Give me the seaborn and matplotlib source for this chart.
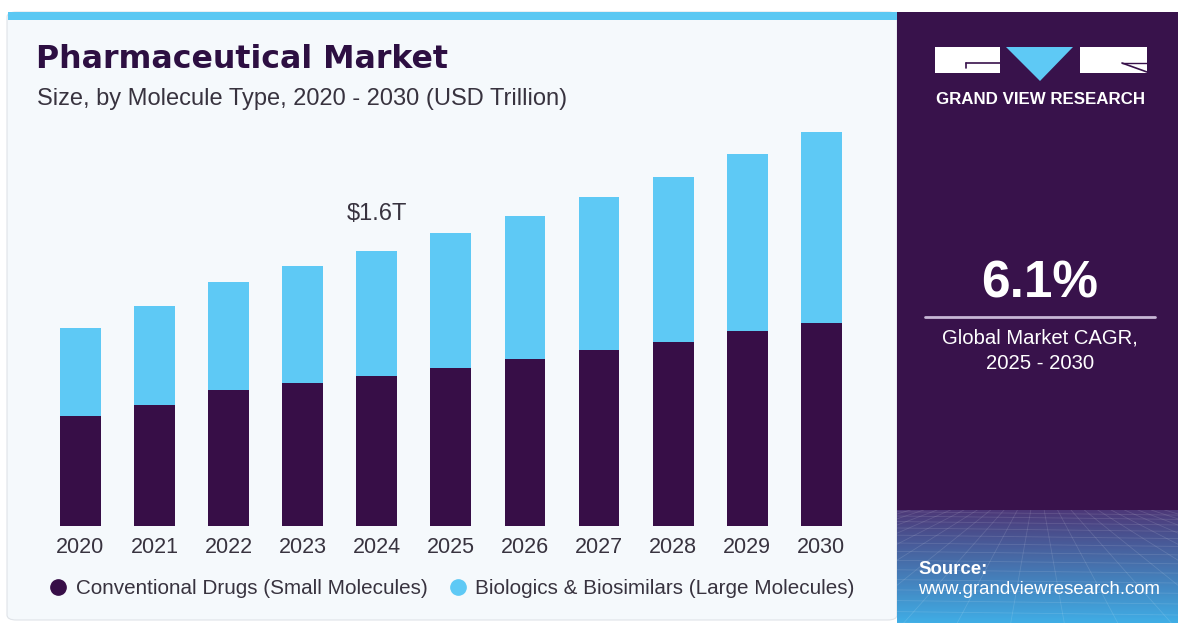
import matplotlib.pyplot as plt
import matplotlib.patches as mpatches
from matplotlib.lines import Line2D
import seaborn as sns
import numpy as np
import pandas as pd

years = ["2020", "2021", "2022", "2023", "2024", "2025", "2026", "2027", "2028", "2029", "2030"]
conventional = [0.64, 0.70, 0.79, 0.83, 0.87, 0.92, 0.97, 1.02, 1.07, 1.13, 1.18]
biologics = [0.51, 0.58, 0.63, 0.68, 0.73, 0.78, 0.83, 0.89, 0.96, 1.03, 1.11]
series_names = ["Conventional Drugs (Small Molecules)", "Biologics & Biosimilars (Large Molecules)"]
highlight_year = "2024"
highlight_label = "$1.6T"
cagr_value = "6.1%"
cagr_text = "Global Market CAGR,\n2025 - 2030"

DARK = "#370e47"
LIGHT = "#5ec9f5"
PANEL = "#f5f9fc"
SIDE = "#38124b"
TEXT = "#38333f"

W, H = 1178, 623

sns.set_style("white")
plt.rcParams["font.family"] = ["Liberation Sans", "DejaVu Sans"]

df = pd.DataFrame({"year": years, "conventional": conventional, "biologics": biologics})
df["total"] = df["conventional"] + df["biologics"]

fig = plt.figure(figsize=(W / 100, H / 100), dpi=100)
fig.patch.set_facecolor("white")


def fx(px):
    return px / W


def fy(py):
    return 1 - py / H


def rect(x0, y0, x1, y1, color, zorder):
    # pixel box (top-left origin) -> figure patch
    fig.patches.append(mpatches.Rectangle((fx(x0), fy(y1)), fx(x1) - fx(x0), fy(y0) - fy(y1),
                                          transform=fig.transFigure, facecolor=color,
                                          edgecolor="none", zorder=zorder))


# light chart panel with blue strip on top
fig.patches.append(mpatches.FancyBboxPatch((fx(7), fy(620)), fx(897) - fx(7), fy(12) - fy(620),
                                           boxstyle="round,pad=0,rounding_size=0.008",
                                           transform=fig.transFigure, facecolor=PANEL,
                                           edgecolor="#dfe3e8", linewidth=0.8, zorder=-5))
rect(8, 12, 897, 20, "#5bc8f3", -4)

# right side panel
rect(897, 12, W, H, SIDE, -4)

# gradient bottom of the side panel
gax = fig.add_axes([fx(897), fy(H), fx(W) - fx(897), fy(510) - fy(H)])
grad = np.linspace(0, 1, 200)[:, None]
top_c = np.array([0.30, 0.22, 0.47])
bot_c = np.array([0.25, 0.68, 0.90])
img = (1 - grad)[..., None] * top_c + grad[..., None] * bot_c
img = np.repeat(img, 10, axis=1)
gax.imshow(img, aspect="auto", extent=[0, 1, 1, 0])
for k in np.linspace(-1.5, 2.5, 22):
    gax.plot([0.5 + (k - 0.5) * 0.25, k], [0, 1], color="white", alpha=0.12, lw=0.6)
for r in np.linspace(0.05, 1, 14) ** 1.4:
    gax.plot([0, 1], [r, r + 0.03], color="white", alpha=0.12, lw=0.6)
gax.set_xlim(0, 1)
gax.set_ylim(1, 0)
gax.axis("off")

# bar chart
ax = fig.add_axes([fx(43.3), fy(525.7), fx(858.4) - fx(43.3), fy(78.7) - fy(525.7)])
ax.patch.set_alpha(0)
sns.barplot(data=df, x="year", y="total", color=LIGHT, saturation=1, width=0.55,
            linewidth=0, ax=ax)
sns.barplot(data=df, x="year", y="conventional", color=DARK, saturation=1, width=0.55,
            linewidth=0, ax=ax)
ax.set_xlim(-0.5, len(years) - 0.5)
ax.set_ylim(0, 2.6)
ax.set_xlabel("")
ax.set_ylabel("")
ax.set_yticks([])
sns.despine(ax=ax, left=True, bottom=True)
ax.tick_params(axis="x", length=0, pad=8, labelsize=15.5, labelcolor=TEXT)

hi = years.index(highlight_year)
ax.text(hi, df["total"][hi] + 0.15, highlight_label, ha="center", va="bottom",
        fontsize=17, color=TEXT)

# titles
fig.text(fx(36), fy(60), "Pharmaceutical Market", fontsize=22.8, fontweight="bold",
         color="#2d0f42", va="center", ha="left", family="DejaVu Sans")
fig.text(fx(37), fy(99), "Size, by Molecule Type, 2020 - 2030 (USD Trillion)", fontsize=17,
         color=TEXT, va="center", ha="left")

# legend
handles = [Line2D([], [], marker="o", linestyle="none", markersize=11, color=c)
           for c in (DARK, LIGHT)]
fig.legend(handles, series_names, loc="center left", bbox_to_anchor=(fx(50), fy(589)),
           ncol=2, frameon=False, fontsize=14.9, borderpad=0, borderaxespad=0,
           handlelength=0.8, handletextpad=0.45, columnspacing=1.05, labelcolor=TEXT)

# logo
rect(935, 47, 1000, 73, "white", 3)
rect(1080, 47, 1147, 73, "white", 3)
fig.patches.append(mpatches.Polygon([(fx(1006), fy(47)), (fx(1073), fy(47)), (fx(1040), fy(81))],
                                    closed=True, transform=fig.transFigure,
                                    facecolor=LIGHT, edgecolor="none", zorder=3))
fig.add_artist(Line2D([fx(966), fx(1000)], [fy(63), fy(63)], color=SIDE, lw=1.2, zorder=4))
fig.add_artist(Line2D([fx(966), fx(966)], [fy(63), fy(68)], color=SIDE, lw=1.2, zorder=4))
fig.add_artist(Line2D([fx(1122), fx(1147)], [fy(63), fy(72)], color=SIDE, lw=1.2, zorder=4))
fig.add_artist(Line2D([fx(1122), fx(1147)], [fy(63), fy(63)], color=SIDE, lw=1.0, zorder=4))
fig.text(fx(1041), fy(100), "GRAND VIEW RESEARCH", fontsize=12.2, fontweight="bold",
         color="white", ha="center", va="center")

# CAGR block
fig.text(fx(1040), fy(284), cagr_value, fontsize=37, fontweight="bold", color="white",
         ha="center", va="center")
fig.add_artist(Line2D([fx(925), fx(1155)], [fy(317), fy(317)], color="#c7b6d6", lw=2))
fig.text(fx(1040), fy(351), cagr_text, fontsize=14.6, color="white", ha="center", va="center",
         linespacing=1.45)

# source
fig.text(fx(918), fy(569), "Source:", fontsize=13.4, fontweight="bold", color="white",
         ha="left", va="center")
fig.text(fx(918), fy(590), "www.grandviewresearch.com", fontsize=13.4, color="white",
         ha="left", va="center")

fig.savefig("out.png", dpi=100, facecolor=fig.get_facecolor())
